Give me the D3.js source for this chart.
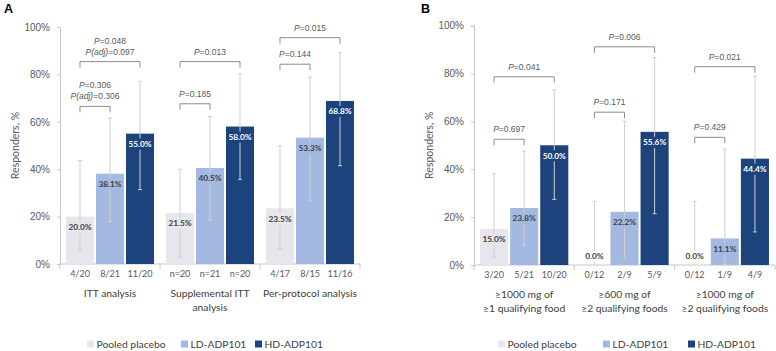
<!DOCTYPE html>
<html>
<head>
<meta charset="utf-8">
<script src="https://cdn.jsdelivr.net/npm/d3@7"></script>
<style>
  body { margin: 0; background: #fff; }
  svg { display: block; }
</style>
</head>
<body>
<div id="chart"></div>
<script>
// series + legend
var seriesNames = ["Pooled placebo", "LD-ADP101", "HD-ADP101"];
var seriesColors = ["#e6e6ec", "#a3b9e1", "#1d437d"];
var labelColors = ["#404040", "#404040", "#ffffff"];

// panel A
var groupsA = [["ITT analysis"], ["Supplemental ITT", "analysis"], ["Per-protocol analysis"]];
var nLabelsA = [["4/20", "8/21", "11/20"], ["n=20", "n=21", "n=20"], ["4/17", "8/15", "11/16"]];
var valuesA = [[20.0, 38.1, 55.0], [21.5, 40.5, 58.0], [23.5, 53.3, 68.8]];
var ciLowA = [[5.9, 17.9, 31.4], [2.8, 18.3, 35.7], [6.5, 26.6, 41.5]];
var ciHighA = [[43.6, 61.6, 77.1], [40.0, 62.2, 80.2], [49.9, 78.8, 89.2]];
var bracketsA = [
  {g: 0, a: 0, b: 1, level: 66.5, text: [["P(adj)", "=0.306"], ["P", "=0.306"]]},
  {g: 0, a: 0, b: 2, level: 85.4, text: [["P(adj)", "=0.097"], ["P", "=0.048"]]},
  {g: 1, a: 0, b: 1, level: 67.6, text: [["P", "=0.185"]]},
  {g: 1, a: 0, b: 2, level: 85.4, text: [["P", "=0.013"]]},
  {g: 2, a: 0, b: 1, level: 84.3, text: [["P", "=0.144"]]},
  {g: 2, a: 0, b: 2, level: 95.5, text: [["P", "=0.015"]]}
];

// panel B
var groupsB = [["\u22651000 mg of", "\u22651 qualifying food"], ["\u2265600 mg of", "\u22652 qualifying foods"], ["\u22651000 mg of", "\u22652 qualifying foods"]];
var nLabelsB = [["3/20", "5/21", "10/20"], ["0/12", "2/9", "5/9"], ["0/12", "1/9", "4/9"]];
var valuesB = [[15.0, 23.8, 50.0], [0.0, 22.2, 55.6], [0.0, 11.1, 44.4]];
var ciLowB = [[3.2, 8.2, 27.4], [0, 2.8, 21.4], [0, 0.3, 13.8]];
var ciHighB = [[38.1, 47.6, 73.1], [26.6, 60.0, 86.6], [26.6, 48.4, 78.9]];
var bracketsB = [
  {g: 0, a: 0, b: 1, level: 52.5, text: [["P", "=0.697"]]},
  {g: 0, a: 0, b: 2, level: 78.6, text: [["P", "=0.041"]]},
  {g: 1, a: 0, b: 1, level: 63.8, text: [["P", "=0.171"]]},
  {g: 1, a: 0, b: 2, level: 91.1, text: [["P", "=0.006"]]},
  {g: 2, a: 0, b: 1, level: 53.3, text: [["P", "=0.429"]]},
  {g: 2, a: 0, b: 2, level: 82.8, text: [["P", "=0.021"]]}
];

var yTicks = [0, 20, 40, 60, 80, 100];

var svg = d3.select("#chart").append("svg")
  .attr("width", 776)
  .attr("height", 351);

var sans = "'Liberation Sans', Arial, sans-serif";
var cal = "Lato, 'Open Sans', sans-serif";

function drawPanel(p) {
  var g = svg.append("g");
  var y = d3.scaleLinear().domain([0, 100]).range([p.y0, p.y1]);
  var x0 = d3.scaleBand().domain(d3.range(p.groups.length)).range([p.xl, p.xr]);
  var x1 = d3.scaleBand().domain(d3.range(seriesNames.length)).range([0, x0.bandwidth()])
    .paddingInner(0.0667).paddingOuter(0.2);
  var cx = function(gi, si) { return x0(gi) + x1(si) + x1.bandwidth() / 2; };

  // panel letter
  g.append("text").attr("x", p.letterX).attr("y", 13)
    .attr("font-family", sans).attr("font-weight", "bold").attr("font-size", 12.5)
    .attr("fill", "#000").text(p.letter);

  // y axis
  var yAxis = g.append("g").attr("transform", "translate(" + p.xl + ",0)")
    .call(d3.axisLeft(y).tickValues(yTicks).tickSize(3).tickPadding(7).tickFormat(function(d) { return d + "%"; }));
  yAxis.select(".domain").attr("stroke", "#c8c8c8");
  yAxis.selectAll(".tick line").attr("stroke", "#c8c8c8");
  yAxis.selectAll("text").attr("font-family", sans).attr("font-size", 10).attr("fill", "#595959");

  g.append("text")
    .attr("transform", "translate(" + (p.xl - 45) + "," + ((p.y0 + p.y1) / 2) + ") rotate(-90)")
    .attr("text-anchor", "middle").attr("dy", "0.35em")
    .attr("font-family", cal).attr("font-size", 10.5).attr("fill", "#595959")
    .text("Responders, %");

  // x axis line and group ticks
  g.append("line").attr("x1", p.xl).attr("x2", p.xr).attr("y1", p.y0).attr("y2", p.y0)
    .attr("stroke", "#c8c8c8");
  g.selectAll(".gtick").data(d3.range(p.groups.length + 1)).enter().append("line")
    .attr("x1", function(d) { return d < p.groups.length ? x0(d) : p.xr; })
    .attr("x2", function(d) { return d < p.groups.length ? x0(d) : p.xr; })
    .attr("y1", p.y0).attr("y2", p.y0 + 5).attr("stroke", "#c8c8c8");

  var cells = [];
  p.values.forEach(function(row, gi) {
    row.forEach(function(v, si) {
      cells.push({gi: gi, si: si, v: v, lo: p.lo[gi][si], hi: p.hi[gi][si], n: p.n[gi][si]});
    });
  });

  // bars
  g.selectAll(".bar").data(cells).enter().append("rect")
    .attr("x", function(d) { return x0(d.gi) + x1(d.si); })
    .attr("y", function(d) { return y(d.v); })
    .attr("width", x1.bandwidth())
    .attr("height", function(d) { return y(0) - y(d.v); })
    .attr("fill", function(d) { return seriesColors[d.si]; });

  // error bars
  g.selectAll(".err").data(cells).enter().append("line")
    .attr("x1", function(d) { return cx(d.gi, d.si); })
    .attr("x2", function(d) { return cx(d.gi, d.si); })
    .attr("y1", function(d) { return y(d.lo); })
    .attr("y2", function(d) { return y(d.hi); })
    .attr("stroke", "#cfcfcf").attr("stroke-width", 1);
  ["lo", "hi"].forEach(function(k) {
    g.selectAll(".cap" + k).data(cells.filter(function(d) { return d[k] > 0; })).enter().append("line")
      .attr("x1", function(d) { return cx(d.gi, d.si) - 2; })
      .attr("x2", function(d) { return cx(d.gi, d.si) + 2; })
      .attr("y1", function(d) { return y(d[k]); })
      .attr("y2", function(d) { return y(d[k]); })
      .attr("stroke", "#cfcfcf");
  });

  // value labels with background
  var lab = g.selectAll(".vlab").data(cells).enter().append("g")
    .attr("transform", function(d) {
      var ly = d.v > 0 ? y(d.v) + 10.5 : y(0) - 8.5;
      return "translate(" + cx(d.gi, d.si) + "," + ly + ")";
    });
  lab.append("rect").attr("x", -12).attr("y", -5.5).attr("width", 24).attr("height", 11)
    .attr("fill", function(d) { return d.v > 0 ? seriesColors[d.si] : "#fff"; });
  lab.append("text").attr("text-anchor", "middle").attr("dy", "0.35em")
    .attr("font-family", cal).attr("font-weight", "bold").attr("font-size", 8.3)
    .attr("fill", function(d) { return d.v > 0 ? labelColors[d.si] : "#404040"; })
    .text(function(d) { return d3.format(".1f")(d.v) + "%"; });

  // n labels
  g.selectAll(".nlab").data(cells).enter().append("text")
    .attr("x", function(d) { return cx(d.gi, d.si); })
    .attr("y", p.y0 + 9.5).attr("dy", "0.35em").attr("text-anchor", "middle")
    .attr("font-family", cal).attr("font-size", 9).attr("fill", "#595959")
    .text(function(d) { return d.n; });

  // group labels
  p.groups.forEach(function(lines, gi) {
    var t = g.append("text").attr("text-anchor", "middle")
      .attr("font-family", cal).attr("font-size", 10.3).attr("fill", "#404040");
    lines.forEach(function(l, li) {
      t.append("tspan").attr("x", x0(gi) + x0.bandwidth() / 2)
        .attr("y", p.y0 + 32.5 + li * 14).text(l);
    });
  });

  // significance brackets
  p.brackets.forEach(function(b) {
    var xa = cx(b.g, b.a), xb = cx(b.g, b.b), yb = y(b.level);
    g.append("path")
      .attr("d", "M" + xa + "," + (yb + 6) + "V" + yb + "H" + xb + "V" + (yb + 6))
      .attr("fill", "none").attr("stroke", "#8c8c8c").attr("stroke-width", 1);
    b.text.forEach(function(line, li) {
      var t = g.append("text").attr("x", (xa + xb) / 2).attr("y", yb - 7 - li * 11)
        .attr("text-anchor", "middle").attr("font-family", sans).attr("font-size", 8.5)
        .attr("fill", "#595959");
      t.append("tspan").attr("font-style", "italic").text(line[0]);
      t.append("tspan").text(line[1]);
    });
  });

  // legend
  seriesNames.forEach(function(name, i) {
    var lx = p.legendX[i];
    g.append("rect").attr("x", lx).attr("y", 340.5).attr("width", 7).attr("height", 7)
      .attr("fill", seriesColors[i]);
    g.append("text").attr("x", lx + 9.5).attr("y", 344).attr("dy", "0.35em")
      .attr("font-family", cal).attr("font-size", 10.3).attr("fill", "#404040").text(name);
  });
}

drawPanel({
  letter: "A", letterX: 4,
  xl: 60, xr: 360, y0: 264, y1: 27,
  groups: groupsA, n: nLabelsA, values: valuesA, lo: ciLowA, hi: ciHighA,
  brackets: bracketsA, legendX: [87, 181, 255]
});

drawPanel({
  letter: "B", letterX: 421,
  xl: 474, xr: 775, y0: 265, y1: 25.5,
  groups: groupsB, n: nLabelsB, values: valuesB, lo: ciLowB, hi: ciHighB,
  brackets: bracketsB, legendX: [498, 603, 688]
});
</script>
</body>
</html>
